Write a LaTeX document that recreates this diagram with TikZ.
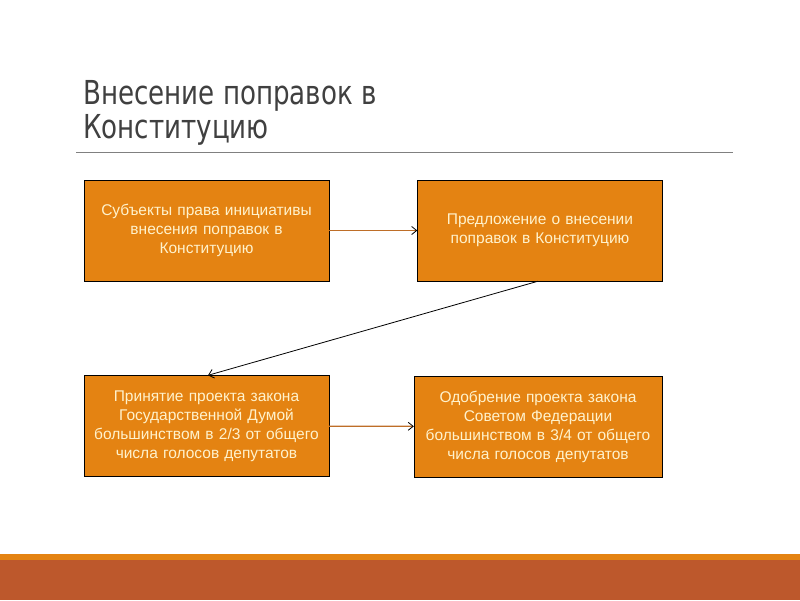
\documentclass[tikz,border=0pt]{standalone}
\usepackage{fontspec}
\setmainfont{Liberation Sans}
\newfontfamily\titlefont[FakeStretch=0.88]{DejaVu Sans Condensed}
\usetikzlibrary{arrows.meta}
\definecolor{boxorange}{RGB}{228,131,18}
\definecolor{bandrust}{RGB}{189,88,44}
\definecolor{boxtext}{RGB}{255,242,204}
\definecolor{titlegray}{RGB}{64,64,64}
\definecolor{linkorange}{RGB}{190,110,40}
\begin{document}
\begin{tikzpicture}[x=1pt,y=-1pt]

    \tikzset{
      stage/.style={
        draw=black,
        fill=boxorange,
        text=boxtext,
        align=center,
        inner sep=0pt,
        minimum width=245pt,
        minimum height=101pt,
        text width=240pt,
        font=\fontsize{15.5}{19}\selectfont,
      },
      link/.style={
        color=linkorange,
        line width=1.2pt,
        -{Straight Barb[black,length=5pt,width=8pt,line width=0.8pt]},
      },
    }
    \useasboundingbox (0,0) rectangle (800,600);
    \fill[white] (0,0) rectangle (800,600);
    % title
    \node[anchor=north west,inner sep=0pt,text=titlegray,align=left,
      font=\titlefont\fontsize{33}{34}\selectfont] (title) at (83,80)
      {Внесение поправок в\\Конституцию};
    \draw[color=gray,line width=1pt] (76,152)--(733,152);
    % stages
    \node[stage] (initiators) at (206.5,230.5) {Субъекты права инициативы\\внесения поправок в\\Конституцию};
    \node[stage] (proposal) at (540,230.5) {Предложение о внесении\\поправок в Конституцию};
    \node[stage] (duma) at (206.5,426) {Принятие проекта закона\\Государственной Думой\\большинством в 2/3 от общего\\числа голосов депутатов};
    \node[stage,minimum width=248pt] (council) at (538,426.5) {Одобрение проекта закона\\Советом Федерации\\большинством в 3/4 от общего\\числа голосов депутатов};
    \draw[link] (initiators)--(proposal);
    \draw[link] (duma)--(council);
    \draw[black,line width=0.8pt,-{Straight Barb[length=5pt,width=9pt,line width=0.8pt]}]
      ([xshift=-2pt]proposal.south)--([xshift=1.5pt]duma.north);
    % bottom bands
    \fill[boxorange] (0,554) rectangle (800,560);
    \fill[bandrust] (0,560) rectangle (800,600);

\end{tikzpicture}
\end{document}
